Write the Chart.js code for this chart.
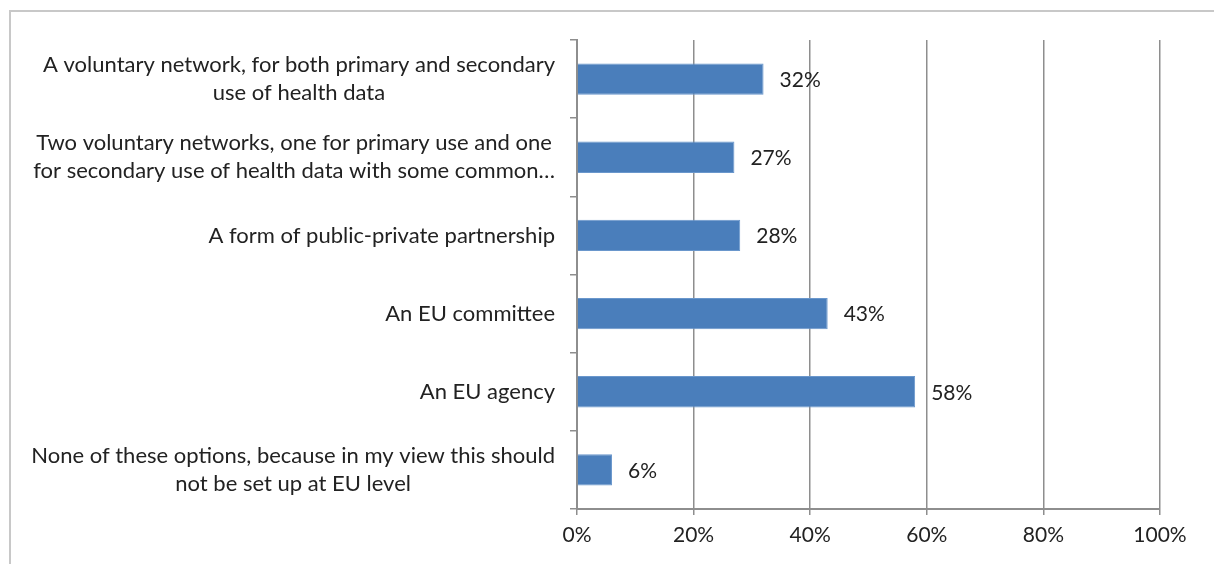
<!DOCTYPE html>
<html>
<head>
<meta charset="utf-8">
<script src="https://cdn.jsdelivr.net/npm/chart.js@4.4.1/dist/chart.umd.min.js"></script>
<style>
  html, body { margin: 0; padding: 0; background: #fff; }
  #wrap { position: relative; width: 1214px; height: 564px; overflow: hidden; }
  #frame { position: absolute; left: 9px; top: 10px; width: 1300px; height: 700px; border-left: 2px solid #c8c8c8; border-top: 2px solid #c8c8c8; }
  canvas { position: absolute; left: 0; top: 0; }
</style>
</head>
<body>
<div id="wrap">
  <div id="frame"></div>
  <canvas id="chart" width="1214" height="564"></canvas>
</div>
<script>
// Survey: preferred governance form for an EU health data body (share of respondents)
const CATEGORIES = [
  ['A voluntary network, for both primary and secondary', 'use of health data'],
  ['Two voluntary networks, one for primary use and one', 'for secondary use of health data with some common…'],
  ['A form of public-private partnership'],
  ['An EU committee'],
  ['An EU agency'],
  ['None of these options, because in my view this should', 'not be set up at EU level'],
];
const VALUES = [32, 27, 28, 43, 58, 6];
const X_TICKS = [0, 20, 40, 60, 80, 100];

const FONT = 'Lato, "Open Sans", sans-serif';
const TEXT = '#222222';
const GRID = '#8e8e8e';
const BAR = '#4a7ebb';

// category labels: each block right-aligned, lines centred within the block
const catLabels = {
  id: 'catLabels',
  afterDraw(chart) {
    const { ctx, scales: { y } } = chart;
    ctx.save();
    ctx.font = `22px ${FONT}`;
    ctx.fillStyle = TEXT;
    ctx.textBaseline = 'middle';
    ctx.textAlign = 'center';
    const right = y.right - 22;
    const lh = 28;
    CATEGORIES.forEach((lines, i) => {
      const cy = y.getPixelForValue(i);
      const w = Math.max(...lines.map(l => ctx.measureText(l).width));
      const cx = right - w / 2;
      const y0 = cy - (lines.length - 1) * lh / 2;
      lines.forEach((l, k) => ctx.fillText(l, cx, y0 + k * lh));
    });
    ctx.restore();
  }
};

// value labels to the right of each bar
const valueLabels = {
  id: 'valueLabels',
  afterDatasetsDraw(chart) {
    const { ctx } = chart;
    const meta = chart.getDatasetMeta(0);
    ctx.save();
    ctx.font = `21px ${FONT}`;
    ctx.fillStyle = TEXT;
    ctx.textBaseline = 'middle';
    ctx.textAlign = 'left';
    meta.data.forEach((bar, i) => {
      ctx.fillText(VALUES[i] + '%', bar.x + 16, bar.y + 1);
    });
    ctx.restore();
  }
};

new Chart(document.getElementById('chart').getContext('2d'), {
  type: 'bar',
  data: {
    labels: CATEGORIES.map(c => c.join(' ')),
    datasets: [{
      data: VALUES,
      backgroundColor: BAR,
      borderColor: '#6a97cc',
      borderWidth: 1,
      borderSkipped: 'start',
      categoryPercentage: 1,
      barPercentage: 0.4,
    }],
  },
  options: {
    indexAxis: 'y',
    responsive: false,
    animation: false,
    layout: { padding: { left: 0, right: 54, top: 40, bottom: 0 } },
    plugins: { legend: { display: false }, tooltip: { enabled: false } },
    scales: {
      x: {
        min: 0, max: 100,
        afterBuildTicks: s => { s.ticks = X_TICKS.map(v => ({ value: v })); },
        afterFit: s => { s.height = 55; },
        grid: { color: GRID, lineWidth: 1.5, tickLength: 6, drawOnChartArea: true },
        border: { color: GRID, width: 2 },
        ticks: { color: TEXT, font: { family: FONT, size: 21 }, padding: 8, callback: v => v + '%' },
      },
      y: {
        afterFit: s => { s.width = 577; },
        grid: { color: GRID, lineWidth: 1.5, tickLength: 7, drawOnChartArea: false, offset: true },
        border: { color: GRID, width: 2 },
        ticks: { display: false },
      },
    },
  },
  plugins: [catLabels, valueLabels],
});
</script>
</body>
</html>
